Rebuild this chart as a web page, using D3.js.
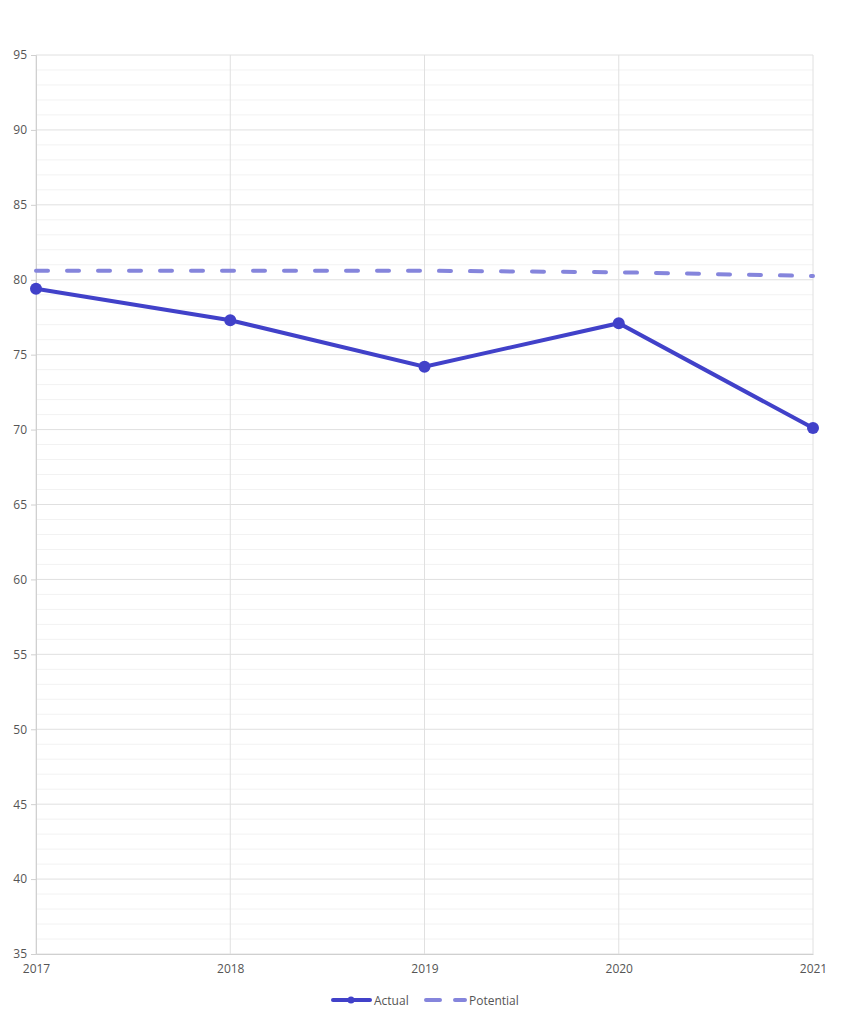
<!DOCTYPE html>
<html><head><meta charset="utf-8">
<script src="https://cdn.jsdelivr.net/npm/d3@7"></script>
<style>body{margin:0;background:#fff;font-family:"Open Sans",sans-serif;}</style>
</head><body><svg id="c" width="843" height="1023"></svg>
<script>
const years = ["2017","2018","2019","2020","2021"];
const actual = [79.4, 77.3, 74.2, 77.1, 70.1];
const potential = [80.6, 80.6, 80.6, 80.5, 80.25];
const yTicks = [35,40,45,50,55,60,65,70,75,80,85,90,95];
const seriesNames = ["Actual","Potential"];

const svg = d3.select("#c");
const L=36, R=813, T=55, B=954;
const x = d3.scalePoint().domain(years).range([L,R]);
const y = d3.scaleLinear().domain([35,95]).range([B,T]);

// minor grid
const minor = d3.range(35,96,1).filter(v=>v%5!==0);
svg.append("g").selectAll("line").data(minor).join("line")
 .attr("x1",L).attr("x2",R).attr("y1",d=>y(d)).attr("y2",d=>y(d))
 .attr("stroke","#f2f2f2").attr("stroke-width",1);
// major grid
svg.append("g").selectAll("line").data(yTicks).join("line")
 .attr("x1",L).attr("x2",R).attr("y1",d=>y(d)).attr("y2",d=>y(d))
 .attr("stroke","#e0e0e0").attr("stroke-width",1);
// vertical grid
svg.append("g").selectAll("line").data(years).join("line")
 .attr("x1",d=>x(d)).attr("x2",d=>x(d)).attr("y1",T).attr("y2",B)
 .attr("stroke","#e0e0e0").attr("stroke-width",1);

// y axis
const ya = svg.append("g").attr("transform",`translate(${L},0)`)
 .call(d3.axisLeft(y).tickValues(yTicks).tickSize(5).tickPadding(4));
ya.select(".domain").attr("stroke","#d0d0d0");
ya.selectAll(".tick line").attr("stroke","#d0d0d0");
ya.selectAll("text").attr("fill","#555").style("font-size","12px").style("font-family","'Open Sans',sans-serif");

// x axis
const xa = svg.append("g").attr("transform",`translate(0,${B})`)
 .call(d3.axisBottom(x).tickSize(0).tickPadding(10));
xa.select(".domain").attr("stroke","#d0d0d0");
xa.selectAll("text").attr("fill","#555").style("font-size","12px").style("font-family","'Open Sans',sans-serif");

const cA="#4141c9", cP="#8585dc";
const line = d3.line().x((d,i)=>x(years[i])).y(d=>y(d));
svg.append("path").datum(potential).attr("d",line).attr("fill","none")
 .attr("stroke",cP).attr("stroke-width",4).attr("stroke-linecap","round").attr("stroke-dasharray","12,19");
svg.append("path").datum(actual).attr("d",line).attr("fill","none")
 .attr("stroke",cA).attr("stroke-width",4);
svg.append("g").selectAll("circle").data(actual).join("circle")
 .attr("cx",(d,i)=>x(years[i])).attr("cy",d=>y(d)).attr("r",6).attr("fill",cA);

// legend
const lg = svg.append("g").attr("transform","translate(0,1000)");
lg.append("line").attr("x1",333).attr("x2",370).attr("y1",0).attr("y2",0).attr("stroke",cA).attr("stroke-width",4).attr("stroke-linecap","round");
lg.append("circle").attr("cx",351).attr("cy",0).attr("r",3.5).attr("fill",cA);
lg.append("text").attr("x",374).attr("y",4.5).text(seriesNames[0]).attr("fill","#555").style("font-size","12px");
lg.append("line").attr("x1",426).attr("x2",465).attr("y1",0).attr("y2",0).attr("stroke",cP).attr("stroke-width",4).attr("stroke-linecap","round").attr("stroke-dasharray","14,15");
lg.append("text").attr("x",469).attr("y",4.5).text(seriesNames[1]).attr("fill","#555").style("font-size","12px");
</script></body></html>
